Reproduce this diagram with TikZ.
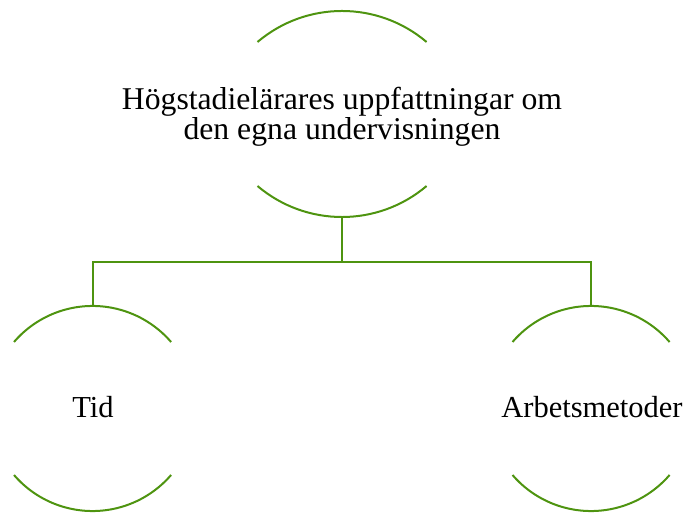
\documentclass[tikz,border=0pt]{standalone}
\usepackage{fontspec}
\setmainfont{Liberation Serif}
\definecolor{arcgreen}{RGB}{78,148,16}
\tikzset{
  arcline/.style={draw=arcgreen, line width=2pt},
  conn/.style={draw=arcgreen, line width=2pt},
  lbl/.style={inner sep=0pt, font=\fontsize{30.5}{30}\selectfont, align=center},
  toplbl/.style={lbl, font=\fontsize{31.7}{30.5}\selectfont}
}
\begin{document}
\begin{tikzpicture}[x=1pt,y=1pt]
\useasboundingbox (0,0) rectangle (687,514);
% text nodes
\node[toplbl] (top) at (342,397) {Högstadielärares uppfattningar om\\den egna undervisningen};
\node[lbl, anchor=base] (tid) at (93,97) {Tid};
\node[lbl, anchor=base] (arb) at (592,97) {Arbetsmetoder};
% arc apex coordinates
\coordinate (topT) at (342,503);
\coordinate (topB) at (342,297);
\coordinate (tidT) at (92.5,208);
\coordinate (tidB) at (92.5,3);
\coordinate (arbT) at (591,208);
\coordinate (arbB) at (591,3);
\coordinate (bus) at (342,252);
% arcs
\draw[arcline] (topT) ++(-84.5,-31) arc[start angle=130.3, end angle=49.7, radius=130.7];
\draw[arcline] (topB) ++(-84.5,31) arc[start angle=229.7, end angle=310.3, radius=130.7];
\draw[arcline] (tidT) ++(-78.5,-36) arc[start angle=139.3, end angle=40.7, radius=103.6];
\draw[arcline] (tidB) ++(-78.5,36) arc[start angle=220.7, end angle=319.3, radius=103.6];
\draw[arcline] (arbT) ++(-78.5,-36) arc[start angle=139.3, end angle=40.7, radius=103.6];
\draw[arcline] (arbB) ++(-78.5,36) arc[start angle=220.7, end angle=319.3, radius=103.6];
% connectors
\draw[conn] (topB) -- (bus) -| (tidT);
\draw[conn] (bus) -| (arbT);
\end{tikzpicture}
\end{document}
